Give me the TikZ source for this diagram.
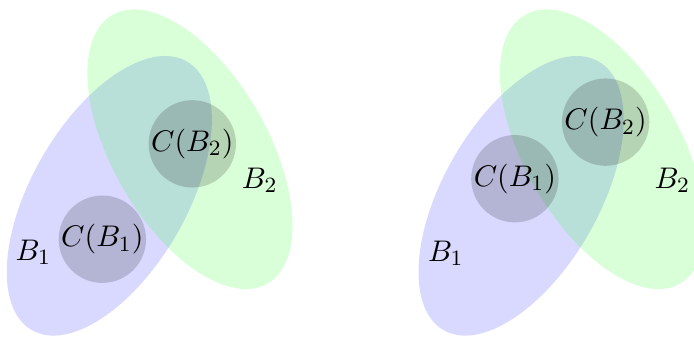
\documentclass[tikz,border=0pt]{standalone}
\tikzset{
  blob/.style={fill=#1, fill opacity=0.15},
  blob/.default=blue,
  core/.style={circle, fill=black, fill opacity=0.17, text opacity=1, minimum size=1.08cm, inner sep=0pt},
}

\begin{document}
\begin{tikzpicture}[every node/.append style={font=\fontsize{10.8}{13}\selectfont}]
  \useasboundingbox (0,0) rectangle (8.95,4.335);
  \clip (0,0) rectangle (8.95,4.335);
  % left: the two cores lie apart
  \fill[blob=blue] (1.41,1.81) circle[x radius=2, y radius=1, rotate=60];
  \fill[blob=green] (2.45,2.41) circle[x radius=2, y radius=1, rotate=-60];
  \node[core] (c1l) at (1.32,1.25) {$C(B_1)$};
  \node[core] (c2l) at (2.48,2.48) {$C(B_2)$};
  \node (b1l) at (0.43,1.08) {$B_1$};
  \node (b2l) at (3.35,2.01) {$B_2$};
  % right: the same sets, cores close together
  \fill[blob=blue] (6.72,1.81) circle[x radius=2, y radius=1, rotate=60];
  \fill[blob=green] (7.77,2.41) circle[x radius=2, y radius=1, rotate=-60];
  \node[core] (c1r) at (6.64,2.03) {$C(B_1)$};
  \node[core] (c2r) at (7.81,2.76) {$C(B_2)$};
  \node (b1r) at (5.75,1.07) {$B_1$};
  \node (b2r) at (8.67,2.01) {$B_2$};
\end{tikzpicture}
\end{document}
